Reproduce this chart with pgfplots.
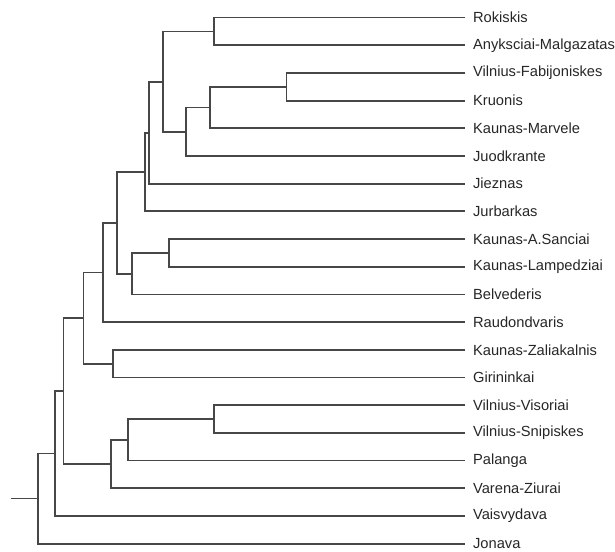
\documentclass[border=0pt]{standalone}
\usepackage{pgfplots}
\pgfplotsset{compat=1.18}
\usepackage{fontspec}
\setmainfont{Liberation Sans}
\begin{document}
\begin{tikzpicture}
\begin{axis}[
  x=1bp, y=1bp, y dir=reverse,
  xmin=0, xmax=463, ymin=2, ymax=551,
  clip=false,
  axis line style={draw=none},
  major tick length=0pt,
  xtick=\empty,
  ytick={19.5,47.05,74.6,102.15,129.7,157.25,184.8,212.35,239.9,267.45,295,322.55,350.1,377.65,405.2,432.75,460.3,487.85,515.4,542.95},
  yticklabels={Rokiskis,Anyksciai-Malgazatas,Vilnius-Fabijoniskes,Kruonis,Kaunas-Marvele,Juodkrante,Jieznas,Jurbarkas,Kaunas-A.Sanciai,Kaunas-Lampedziai,Belvederis,Raudondvaris,Kaunas-Zaliakalnis,Girininkai,Vilnius-Visoriai,Vilnius-Snipiskes,Palanga,Varena-Ziurai,Vaisvydava,Jonava},
  yticklabel pos=right,
  yticklabel style={anchor=west, inner sep=0pt, xshift=7.5bp, text=black!85, font=\fontsize{14.6bp}{17bp}\selectfont},
  cycle list={{draw=black!72, line width=1.8bp, solid, mark=none}},
  every axis plot post/.append style={draw=black!72, line width=1.8bp, solid, mark=none, sharp plot},
]
% A
\addplot coordinates {(463,19.5) (213,19.5) (213,47.05) (463,47.05)};
% B
\addplot coordinates {(463,74.6) (285,74.6) (285,102.15) (463,102.15)};
% C
\addplot coordinates {(285,88.375) (209,88.375) (209,129.7) (463,129.7)};
% D
\addplot coordinates {(209,109.04) (185,109.04) (185,157.25) (463,157.25)};
% E
\addplot coordinates {(213,33.275) (162,33.275) (162,133.14) (185,133.14)};
% F
\addplot coordinates {(162,83.21) (148,83.21) (148,184.8) (463,184.8)};
% G
\addplot coordinates {(148,134.0) (144,134.0) (144,212.35) (463,212.35)};
% H
\addplot coordinates {(463,239.9) (168,239.9) (168,267.45) (463,267.45)};
% I
\addplot coordinates {(168,253.675) (131,253.675) (131,295) (463,295)};
% J
\addplot coordinates {(144,173.18) (116,173.18) (116,274.34) (131,274.34)};
% K
\addplot coordinates {(116,223.76) (102,223.76) (102,322.55) (463,322.55)};
% M
\addplot coordinates {(463,350.1) (112,350.1) (112,377.65) (463,377.65)};
% N
\addplot coordinates {(102,273.16) (83,273.16) (83,363.875) (112,363.875)};
% O
\addplot coordinates {(463,405.2) (213,405.2) (213,432.75) (463,432.75)};
% P
\addplot coordinates {(213,418.975) (127,418.975) (127,460.3) (463,460.3)};
% Q
\addplot coordinates {(127,439.64) (110,439.64) (110,487.85) (463,487.85)};
% R
\addplot coordinates {(83,318.52) (63,318.52) (63,463.74) (110,463.74)};
% S
\addplot coordinates {(63,391.13) (55,391.13) (55,515.4) (463,515.4)};
% T
\addplot coordinates {(55,453.27) (38,453.27) (38,542.95) (463,542.95)};
% root
\addplot coordinates {(11,498.11) (38,498.11)};
\end{axis}
\end{tikzpicture}
\end{document}
